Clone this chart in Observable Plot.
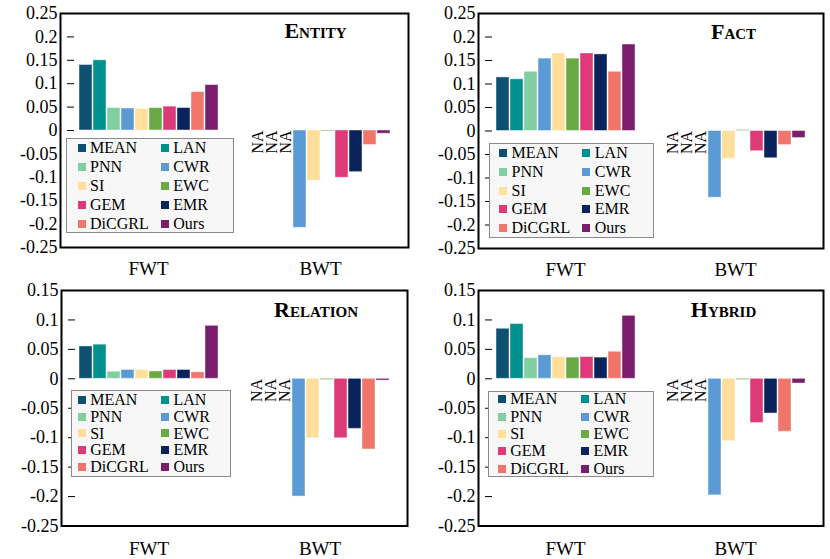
<!DOCTYPE html>
<html>
<head>
<meta charset="utf-8">
<script src="https://cdn.jsdelivr.net/npm/d3@7"></script>
<script src="https://cdn.jsdelivr.net/npm/@observablehq/plot@0.6"></script>
<style>
  html, body { margin: 0; padding: 0; background: #fff; }
  #chart { position: relative; width: 830px; height: 559px; font-family: "Liberation Serif", serif; }
  .panel { position: absolute; }
  .panel svg text { font-family: "Liberation Serif", serif; }
  .legend { position: absolute; box-sizing: border-box; border: 1.5px solid #8a8a8a; background: #f7f7f7;
            display: grid; grid-template-columns: 83.3px 83.3px; font-size: 16px; color: #000;
            font-family: "Liberation Serif", serif; }
  .item { display: flex; align-items: center; white-space: nowrap; }
  .sw { width: 8px; height: 8px; margin-right: 4.5px; flex: none; }
</style>
</head>
<body>
<div id="chart"></div>
<script>
// ---- data ----
const methods = ["MEAN", "LAN", "PNN", "CWR", "SI", "EWC", "GEM", "EMR", "DiCGRL", "Ours"];
const colors  = ["#0f4f6f", "#00908e", "#7fcfa0", "#5b9bd5", "#ffdf99", "#6aaa45", "#dc3a78", "#0b235c", "#f0766b", "#7a1d6c"];
const groups  = ["FWT", "BWT"];

const entityFWT   = [0.140, 0.150, 0.048, 0.047, 0.046, 0.048, 0.051, 0.048, 0.082, 0.097];
const entityBWT   = [null, null, null, -0.208, -0.107, -0.002, -0.101, -0.089, -0.031, -0.007];
const factFWT     = [0.114, 0.110, 0.126, 0.154, 0.165, 0.154, 0.165, 0.163, 0.126, 0.184];
const factBWT     = [null, null, null, -0.142, -0.059, 0.002, -0.043, -0.058, -0.030, -0.015];
const relationFWT = [0.055, 0.058, 0.012, 0.015, 0.015, 0.0125, 0.015, 0.015, 0.011, 0.090];
const relationBWT = [null, null, null, -0.200, -0.101, -0.002, -0.101, -0.085, -0.120, -0.003];
const hybridFWT   = [0.085, 0.093, 0.035, 0.040, 0.037, 0.036, 0.037, 0.036, 0.046, 0.107];
const hybridBWT   = [null, null, null, -0.198, -0.106, -0.002, -0.075, -0.059, -0.090, -0.008];

const titles = ["Entity", "Fact", "Relation", "Hybrid"];
const yTicksTop    = [-0.25, -0.2, -0.15, -0.1, -0.05, 0, 0.05, 0.1, 0.15, 0.2, 0.25];
const yTicksBottom = [-0.25, -0.2, -0.15, -0.1, -0.05, 0, 0.05, 0.1, 0.15];
const naLabel = "NA";

// ---- layout (positions/styles only) ----
const panels = [
  {fwt: entityFWT, bwt: entityBWT, title: titles[0], ticks: yTicksTop, left: 0, top: 0, w: 415, h: 280,
   mL: 60, mR: 7, mT: 13, mB: 33, tDy: 9, tDx: -5, fxPad: 14,
   lg: {left: 66, top: 138, w: 168, h: 95, pl: 10.5, row: 19.0}},
  {fwt: factFWT, bwt: factBWT, title: titles[1], ticks: yTicksTop, left: 415, top: 0, w: 415, h: 280,
   mL: 63, mR: 7, mT: 13, mB: 32, tDy: 10, tDx: -2, fxPad: 14,
   lg: {left: 489, top: 143, w: 165, h: 95, pl: 9, row: 18.7}},
  {fwt: relationFWT, bwt: relationBWT, title: titles[2], ticks: yTicksBottom, left: 0, top: 280, w: 415, h: 279,
   mL: 61, mR: 8, mT: 10, mB: 33.5, tDy: 11, tDx: -4, fxPad: 15,
   lg: {left: 71, top: 390, w: 160, h: 87, pl: 5.7, row: 16.8}},
  {fwt: hybridFWT, bwt: hybridBWT, title: titles[3], ticks: yTicksBottom, left: 415, top: 280, w: 415, h: 279,
   mL: 63, mR: 7, mT: 10, mB: 33.5, tDy: 11, tDx: -12, fxPad: 15,
   lg: {left: 488, top: 391, w: 166, h: 86, pl: 8.7, row: 17.4}}
];

const FONT = '"Liberation Serif", serif';
const fmt = d => String(Math.round(d * 100) / 100);
const chart = document.getElementById("chart");

function place(el, left, top) {
  const div = document.createElement("div");
  div.className = "panel";
  div.style.left = left + "px";
  div.style.top = top + "px";
  div.appendChild(el);
  chart.appendChild(div);
  return div;
}

for (const p of panels) {
  const rows = groups.flatMap(g => methods.map((m, i) => ({
    group: g, method: m, value: (g === "FWT" ? p.fwt : p.bwt)[i]
  })));
  const bars = rows.filter(d => d.value != null);
  const nas = rows.filter(d => d.value == null);
  const ticks = p.ticks;

  const svg = Plot.plot({
    width: p.w, height: p.h,
    marginLeft: p.mL, marginRight: p.mR, marginTop: p.mT, marginBottom: p.mB,
    style: {fontFamily: FONT, background: "white", color: "black"},
    fx: {domain: groups, paddingInner: 0.14, paddingOuter: 0.08},
    x: {domain: methods, paddingInner: 0.09, paddingOuter: 0, axis: null},
    y: {domain: [ticks[0], ticks[ticks.length - 1]]},
    color: {domain: methods, range: colors},
    marks: [
      Plot.barY(bars, {fx: "group", x: "method", y: "value", fill: "method",
                       stroke: "white", strokeOpacity: 0.45, strokeWidth: 1}),
      Plot.text(nas, {fx: "group", x: "method", y: 0, text: () => naLabel, rotate: -90,
                      textAnchor: "end", fontSize: 16, fontFamily: FONT, fill: "black"}),
      Plot.text([{group: "BWT", t: p.title}], {fx: "group", text: "t", frameAnchor: "top", dy: p.tDy, dx: p.tDx,
                      fontSize: 22, fontWeight: "bold", fontVariant: "small-caps", fontFamily: FONT, fill: "black"}),
      Plot.axisY({ticks: ticks, tickFormat: fmt, tickSize: 7, tickPadding: 10, fontSize: 18,
                  fontFamily: FONT, fontVariant: "normal", label: null}),
      Plot.axisFx({anchor: "bottom", tickSize: 0, tickPadding: p.fxPad, fontSize: 19, fontFamily: FONT, label: null})
    ]
  });
  place(svg, p.left, p.top);

  // frame around the whole plot area
  const frame = Plot.plot({
    width: p.w, height: p.h,
    marginLeft: p.mL, marginRight: p.mR, marginTop: p.mT, marginBottom: p.mB,
    style: {background: "transparent"},
    marks: [Plot.frame({stroke: "black", strokeWidth: 2})]
  });
  place(frame, p.left, p.top);
}

// legends (HTML, built from methods/colors)
for (const p of panels) {
  const lg = document.createElement("div");
  lg.className = "legend";
  lg.style.left = p.lg.left + "px";
  lg.style.top = p.lg.top + "px";
  lg.style.width = p.lg.w + "px";
  lg.style.height = p.lg.h + "px";
  lg.style.paddingLeft = p.lg.pl + "px";
  lg.style.gridAutoRows = p.lg.row + "px";
  lg.style.alignContent = "center";
  methods.forEach((m, i) => {
    const it = document.createElement("div");
    it.className = "item";
    const sw = document.createElement("span");
    sw.className = "sw";
    sw.style.background = colors[i];
    const tx = document.createElement("span");
    tx.textContent = m;
    it.appendChild(sw);
    it.appendChild(tx);
    lg.appendChild(it);
  });
  chart.appendChild(lg);
}
</script>
</body>
</html>
